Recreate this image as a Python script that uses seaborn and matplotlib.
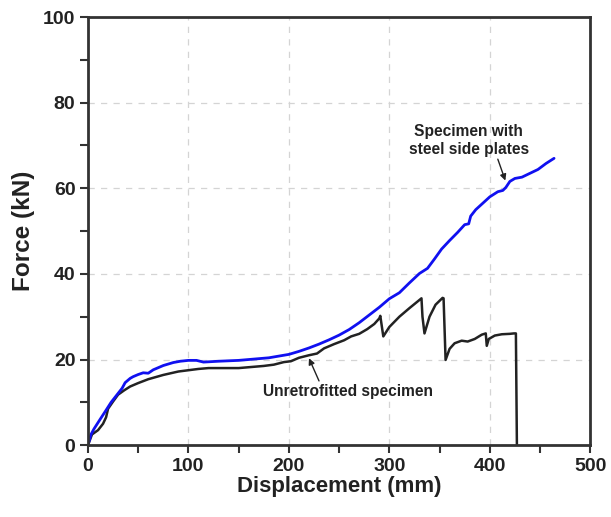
import matplotlib
matplotlib.use("Agg")
import matplotlib.pyplot as plt
import seaborn as sns
import pandas as pd
from matplotlib.ticker import MultipleLocator

# Specimen with steel side plates (blue)
steel_disp = [0, 3, 6, 12, 17, 23, 29, 34, 37, 42, 45, 50, 55, 60, 65, 75, 85, 92, 100, 108, 115, 130,
              150, 165, 180, 190, 200, 210, 220, 230, 240, 250, 260, 270, 280, 290, 300, 310, 320,
              330, 338, 345, 352, 360, 368, 375, 379, 381, 386, 393, 400, 408, 413, 416, 420,
              425, 432, 440, 448, 456, 464]
steel_force = [0, 2.5, 3.8, 6.0, 7.8, 10.0, 11.8, 13.3, 14.6, 15.6, 16.0, 16.5, 16.9, 16.8, 17.6, 18.6, 19.3, 19.6,
               19.8, 19.8, 19.4, 19.6, 19.8, 20.1, 20.4, 20.8, 21.2, 21.9, 22.7, 23.6, 24.6, 25.7, 27.0, 28.6,
               30.4, 32.2, 34.2, 35.6, 37.9, 40.1, 41.3, 43.5, 45.8, 47.8, 49.7, 51.5, 51.7, 53.5, 55.0,
               56.5, 58.0, 59.2, 59.5, 60.2, 61.6, 62.3, 62.6, 63.5, 64.4, 65.8, 67.0]

# Unretrofitted specimen (black)
unret_disp = [0, 4, 10, 15, 18, 20, 25, 30, 36, 42, 50, 60, 75, 90, 100, 110, 120, 135, 150, 160, 175,
              185, 195, 202, 210, 220, 228, 235, 245, 255, 262, 270, 278, 285, 290, 291, 294, 300, 310,
              320, 332, 333, 335, 340, 346, 353, 354, 356, 360, 365, 372, 378, 385, 392, 396, 397, 399,
              405, 412, 420, 424, 426, 427]
unret_force = [0, 2.5, 3.5, 5.0, 6.5, 8.5, 10.2, 11.8, 12.8, 13.7, 14.5, 15.4, 16.4, 17.2, 17.5, 17.8, 18.0, 18.0,
               18.0, 18.2, 18.5, 18.8, 19.4, 19.6, 20.4, 21.0, 21.4, 22.6, 23.6, 24.5, 25.4, 26.0, 27.1, 28.3,
               29.6, 30.2, 25.4, 27.6, 30.0, 32.0, 34.3, 30.0, 26.1, 30.0, 32.8, 34.4, 34.3, 19.9, 22.5, 23.8,
               24.4, 24.2, 24.8, 25.8, 26.1, 23.2, 24.8, 25.6, 25.9, 26.0, 26.1, 26.1, 0]

df_steel = pd.DataFrame({"Displacement": steel_disp, "Force": steel_force})
df_unret = pd.DataFrame({"Displacement": unret_disp, "Force": unret_force})

sns.set_style("white")
plt.rcParams['font.family'] = ['Liberation Sans', 'DejaVu Sans']

fig = plt.figure(figsize=(6.11, 5.17), dpi=100)
ax = fig.add_axes([0.144, 0.139, 0.822, 0.828])

sns.lineplot(data=df_unret, x="Displacement", y="Force", sort=False, estimator=None,
             color="#222222", linewidth=1.8, ax=ax)
sns.lineplot(data=df_steel, x="Displacement", y="Force", sort=False, estimator=None,
             color="#1010f0", linewidth=2.0, ax=ax)

ax.set_xlim(0, 500)
ax.set_ylim(0, 100)
ax.xaxis.set_major_locator(MultipleLocator(100))
ax.xaxis.set_minor_locator(MultipleLocator(50))
ax.yaxis.set_major_locator(MultipleLocator(20))
ax.yaxis.set_minor_locator(MultipleLocator(10))
ax.grid(True, which="major", linestyle=(0, (5, 5)), color="#d4d4d4", linewidth=0.9)
ax.set_axisbelow(True)

for s in ax.spines.values():
    s.set_visible(True)
    s.set_color("#333333")
    s.set_linewidth(2.0)

ax.tick_params(axis="both", which="major", direction="out", length=6, width=1.5, color="#333333",
               labelsize=14, bottom=True, left=True, pad=3)
ax.tick_params(axis="both", which="minor", direction="out", length=6, width=1.5, color="#333333",
               bottom=True, left=True)
for lbl in ax.get_xticklabels() + ax.get_yticklabels():
    lbl.set_fontweight("bold")
    lbl.set_color("#222222")

ax.set_xlabel("Displacement (mm)", fontsize=16, fontweight="bold", labelpad=1, color="#222222")
ax.set_ylabel("Force (kN)", fontsize=17.5, fontweight="bold", labelpad=6, color="#222222")

ax.text(379, 71.1, "Specimen with\nsteel side plates", ha="center", va="center",
        fontsize=11.2, fontweight="bold", color="#222222", linespacing=1.25)
ax.annotate("", xy=(415.5, 61.8), xytext=(408, 66.8),
            arrowprops=dict(arrowstyle="-|>", color="#222222", lw=1.0, mutation_scale=9,
                            shrinkA=0, shrinkB=0))
ax.text(259, 12.6, "Unretrofitted specimen", ha="center", va="center",
        fontsize=11.2, fontweight="bold", color="#222222")
ax.annotate("", xy=(220, 20.3), xytext=(230, 15.0),
            arrowprops=dict(arrowstyle="-|>", color="#222222", lw=1.0, mutation_scale=9,
                            shrinkA=0, shrinkB=0))

fig.savefig("out.png", dpi=100)
